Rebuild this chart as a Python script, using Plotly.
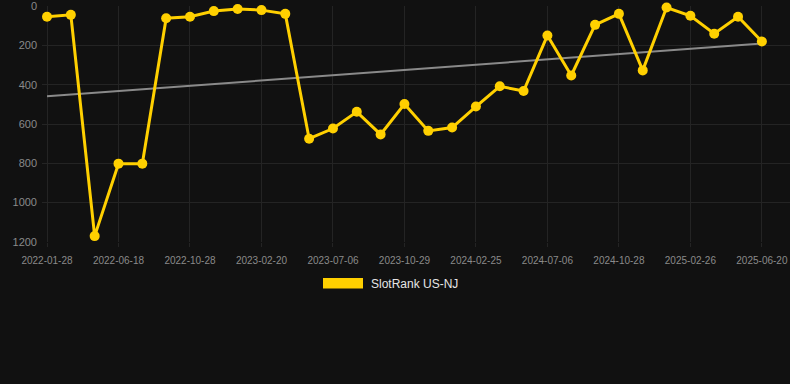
import numpy as np
import plotly.graph_objects as go

dates = [
    "2022-01-28", "2022-03-15", "2022-05-01", "2022-06-18", "2022-08-01", "2022-09-14",
    "2022-10-28", "2022-12-05", "2023-01-12", "2023-02-20", "2023-04-05", "2023-05-21",
    "2023-07-06", "2023-08-13", "2023-09-21", "2023-10-29", "2023-12-07", "2024-01-16",
    "2024-02-25", "2024-04-10", "2024-05-23", "2024-07-06", "2024-08-13", "2024-09-20",
    "2024-10-28", "2024-12-08", "2025-01-17", "2025-02-26", "2025-04-06", "2025-05-13",
    "2025-06-20",
]
ranks = [
    54, 44, 1171, 802, 802, 61, 54, 25, 14, 20, 39, 675, 623, 538, 653, 498,
    635, 618, 511, 408, 432, 149, 353, 95, 39, 327, 7, 49, 140, 54, 180,
]
tick_labels = [
    "2022-01-28", "2022-06-18", "2022-10-28", "2023-02-20", "2023-07-06", "2023-10-29",
    "2024-02-25", "2024-07-06", "2024-10-28", "2025-02-26", "2025-06-20",
]
y_ticks = [0, 200, 400, 600, 800, 1000, 1200]
series_name = "SlotRank US-NJ"

idx = np.arange(len(ranks))
slope, intercept = np.polyfit(idx, ranks, 1)
trend = [intercept + slope * i for i in idx]

GOLD = "#FFD000"
GRID = "#242424"
FONT = "Liberation Sans, Arial, sans-serif"

fig = go.Figure()
fig.add_trace(go.Scatter(
    x=dates, y=trend, mode="lines",
    line=dict(color="#8a8a8a", width=2),
    hoverinfo="skip", showlegend=False,
))
fig.add_trace(go.Scatter(
    x=dates, y=ranks, mode="lines+markers", name=series_name,
    line=dict(color=GOLD, width=3),
    marker=dict(color=GOLD, size=10),
    showlegend=False, cliponaxis=False,
))

# legend swatch + label
fig.add_shape(type="rect", xref="paper", yref="paper",
              x0=(323 - 42) / 748, x1=(363 - 42) / 748,
              y0=(242.5 - 278.5) / 236.5, y1=(242.5 - 289) / 236.5,
              fillcolor=GOLD, line=dict(width=0))
fig.add_annotation(text=series_name, xref="paper", yref="paper",
                   x=(369 - 42) / 748, y=(242.5 - 284.5) / 236.5,
                   xanchor="left", yanchor="middle", showarrow=False,
                   font=dict(family=FONT, size=12, color="#e6e6e6"))

fig.update_layout(
    width=790, height=384,
    margin=dict(l=42, r=0, t=6, b=141.5),
    paper_bgcolor="#111111", plot_bgcolor="#111111",
    font=dict(family=FONT, color="#8a8a8a"),
    showlegend=False,
    xaxis=dict(
        type="category", categoryorder="array", categoryarray=dates,
        range=[-0.21, 31.18],
        tickmode="array", tickvals=tick_labels, ticktext=tick_labels,
        tickfont=dict(size=10, color="#8a8a8a"),
        showgrid=True, gridcolor=GRID, gridwidth=1,
        ticks="outside", ticklen=4, tickcolor=GRID,
        ticklabelstandoff=5,
        zeroline=False, showline=False,
    ),
    yaxis=dict(
        range=[1201, -1], tickmode="array", tickvals=y_ticks,
        tickfont=dict(size=11, color="#8a8a8a"),
        showgrid=True, gridcolor=GRID, gridwidth=1,
        zeroline=False, showline=False,
        ticklabelstandoff=4,
    ),
)

fig.write_html(
    "out.html",
    config={"displayModeBar": False},
    post_script="document.body.style.margin='0';document.body.style.background='#111111';",
)
